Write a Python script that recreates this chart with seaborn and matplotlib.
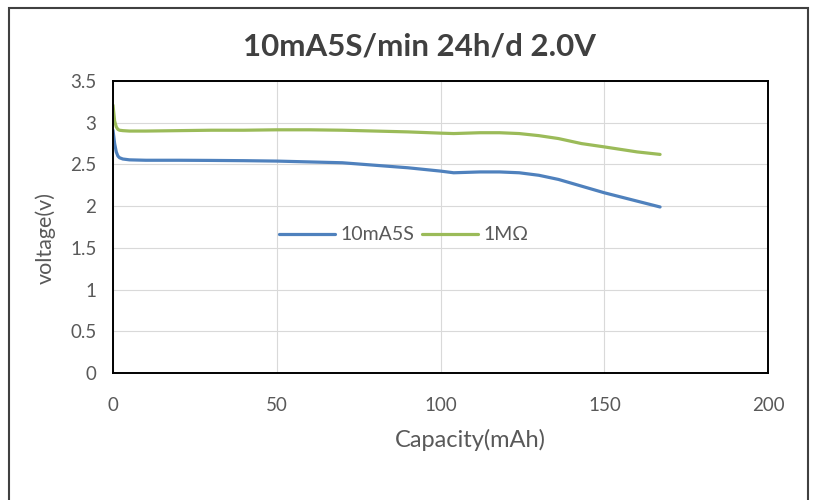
import pandas as pd
import matplotlib.pyplot as plt
import seaborn as sns
from matplotlib.patches import Rectangle

# Discharge curves
cap_10ma = [0, 0.5, 1, 1.5, 2, 3, 5, 10, 20, 30, 40, 50, 60, 70, 80, 90,
            100, 104, 108, 112, 118, 124, 130, 136, 143, 150, 155, 160, 167]
v_10ma = [2.91, 2.75, 2.65, 2.60, 2.58, 2.565, 2.555, 2.55, 2.55, 2.548, 2.545, 2.54,
          2.53, 2.52, 2.49, 2.46, 2.42, 2.40, 2.405, 2.41, 2.41, 2.40, 2.37, 2.32,
          2.24, 2.16, 2.11, 2.06, 1.99]

cap_1m = [0, 0.5, 1, 1.5, 2, 3, 5, 10, 20, 30, 40, 50, 60, 70, 80, 90,
          100, 104, 108, 112, 118, 124, 130, 136, 143, 150, 155, 160, 167]
v_1m = [3.21, 3.02, 2.95, 2.92, 2.91, 2.905, 2.90, 2.90, 2.905, 2.91, 2.91, 2.915,
        2.915, 2.91, 2.90, 2.89, 2.875, 2.87, 2.875, 2.88, 2.88, 2.87, 2.845, 2.81,
        2.75, 2.71, 2.68, 2.65, 2.62]

x_ticks = [0, 50, 100, 150, 200]
y_ticks = [0, 0.5, 1, 1.5, 2, 2.5, 3, 3.5]

sns.set_style("white")
plt.rcParams['font.family'] = ['Lato', 'DejaVu Sans']

df1 = pd.DataFrame({"cap": cap_10ma, "v": v_10ma})
df2 = pd.DataFrame({"cap": cap_1m, "v": v_1m})

fig = plt.figure(figsize=(8.2, 5), dpi=100)
ax = fig.add_axes([0.1378, 0.254, 0.799, 0.584])

sns.lineplot(data=df1, x="cap", y="v", ax=ax, color="#4f81bd", linewidth=2.3, label="10mA5S")
sns.lineplot(data=df2, x="cap", y="v", ax=ax, color="#9bbb59", linewidth=2.3, label="1M\u03a9")

ax.set_xlim(0, 200)
ax.set_ylim(0, 3.5)
ax.set_xticks(x_ticks)
ax.set_yticks(y_ticks)
ax.set_yticklabels([f"{t:g}" for t in y_ticks])
ax.grid(True, color="#d9d9d9", linewidth=0.8)
ax.set_axisbelow(True)
for s in ax.spines.values():
    s.set_color("black")
    s.set_linewidth(1.4)
ax.tick_params(length=0, labelsize=13.5, colors="#595959")
ax.tick_params(axis="x", pad=17)
ax.tick_params(axis="y", pad=12)

ax.set_xlabel("Capacity(mAh)", fontsize=17, color="#595959", labelpad=6)
ax.xaxis.set_label_coords(0.545, -0.19)
ax.set_ylabel("voltage(v)", fontsize=15.5, color="#595959", labelpad=10)
ax.yaxis.set_label_coords(-0.087, 0.462)
fig.suptitle("10mA5S/min 24h/d 2.0V", fontsize=22.5, fontweight="bold", color="#404040",
             x=0.512, y=0.935)

ax.legend(loc="center", bbox_to_anchor=(0.4435, 0.473), ncol=2, frameon=False,
          fontsize=14, labelcolor="#595959", handlelength=2.9, columnspacing=0.4,
          handletextpad=0.25)

# outer chart border
fig.patches.append(Rectangle((9 / 820, -0.05), 799 / 820, 1.05 - 8 / 500,
                             transform=fig.transFigure, fill=False,
                             edgecolor="#404040", linewidth=1.5))

fig.savefig("out.png", dpi=100)
